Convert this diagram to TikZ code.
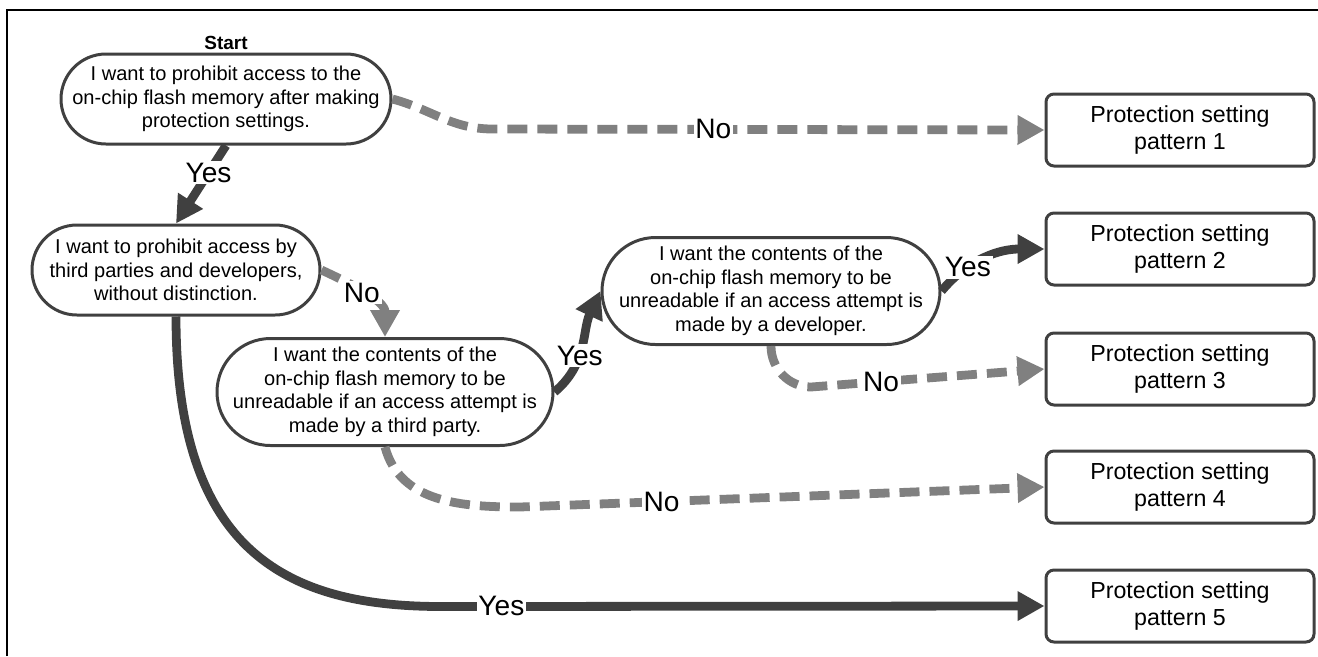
\documentclass[tikz,border=0pt]{standalone}
\usepackage{fontspec}
\setmainfont{Liberation Sans}
\usetikzlibrary{arrows.meta}
\definecolor{darkline}{HTML}{404040}
\definecolor{greyline}{HTML}{808080}
\newcommand{\qfont}{\fontsize{11.4}{13.4}\selectfont}
\newcommand{\resfont}{\fontsize{13.2}{15}\selectfont}
\newcommand{\lblfont}{\fontsize{16}{18}\selectfont}
\newcommand{\startfont}{\fontsize{10.8}{12}\selectfont\bfseries}
\tikzset{
    question/.style={draw=darkline, line width=1.7pt, fill=white, rectangle, rounded corners=0.9cm, minimum height=1.8cm, inner sep=0pt, align=center, font=\qfont},
    bigquestion/.style={question, rounded corners=1.07cm, minimum height=2.14cm},
    result/.style={draw=darkline, line width=1.7pt, fill=white, rounded corners=0.16cm, minimum width=5.36cm, minimum height=1.44cm, inner sep=0pt, align=center, font=\resfont},
    yesarrow/.style={draw=darkline, line width=5pt, -{Triangle[length=0.54cm, width=0.56cm]}},
    noarrow/.style={draw=greyline, line width=5pt, dash pattern=on 0.4cm off 0.2cm, -{Triangle[length=0.54cm, width=0.56cm]}},
    lbl/.style={fill=white, inner sep=1pt, text=black, font=\lblfont}
}

\begin{document}
\begin{tikzpicture}
    % Page
    \useasboundingbox (0,0) rectangle (26.36,-13.12);
    \draw[line width=1.4pt] (0.14,-13.12) -- (0.14,-0.2) -- (26.36,-0.2);

    % Questions
    \node[font=\startfont] (start) at (4.52,-0.86) {Start};
    \node[question, minimum width=6.6cm] (Q1) at (4.52,-1.98) {I want to prohibit access to the\\on-chip flash memory after making\\protection settings.};
    \node[question, minimum width=5.76cm] (Q2) at (3.52,-5.4) {I want to prohibit access by\\third parties and developers,\\without distinction.};
    \node[bigquestion, minimum width=6.72cm] (Q3) at (7.7,-7.84) {I want the contents of the\\on-chip flash memory to be\\unreadable if an access attempt is\\made by a third party.};
    \node[bigquestion, minimum width=6.76cm] (Q4) at (15.42,-5.82) {I want the contents of the\\on-chip flash memory to be\\unreadable if an access attempt is\\made by a developer.};

    % Results
    \pgfmathsetmacro{\resX}{23.6}
    \node[result] (P1) at (\resX,-2.6) {Protection setting\\pattern 1};
    \node[result] (P2) at (\resX,-4.98) {Protection setting\\pattern 2};
    \node[result] (P3) at (\resX,-7.38) {Protection setting\\pattern 3};
    \node[result] (P4) at (\resX,-9.74) {Protection setting\\pattern 4};
    \node[result] (P5) at (\resX,-12.12) {Protection setting\\pattern 5};

    % Q1
    \draw[noarrow] (Q1.east) to[out=-15, in=180] ++(2.0,-0.6) -- node[lbl, pos=0.4] {No} (P1.west);
    \draw[yesarrow] (Q1.south) -- node[lbl, pos=0.35] {Yes} (Q2.north);

    % Q2
    \draw[noarrow] (Q2.east) to[out=-25, in=90] node[lbl, pos=0.45] {No} (Q3.north);
    \draw[yesarrow] (Q2.south) to[out=-90, in=180, out distance=4.6cm, in distance=3.2cm] ++(5.3,-5.8) -- node[lbl, pos=0.1] {Yes} (P5.west);

    % Q3
    \draw[yesarrow] (Q3.east) to[out=40, in=245] node[lbl, pos=0.4] {Yes} (Q4.west);
    \draw[noarrow] (Q3.south) to[out=-75, in=180] ++(2.7,-1.2) -- node[lbl, pos=0.27] {No} (P4.west);

    % Q4
    \draw[yesarrow] (Q4.east) to[out=50, in=180] node[lbl, pos=0.3] {Yes} (P2.west);
    \draw[noarrow] (Q4.south) to[out=-90, in=180] ++(0.8,-0.82) -- node[lbl, pos=0.3] {No} (P3.west);
\end{tikzpicture}
\end{document}
